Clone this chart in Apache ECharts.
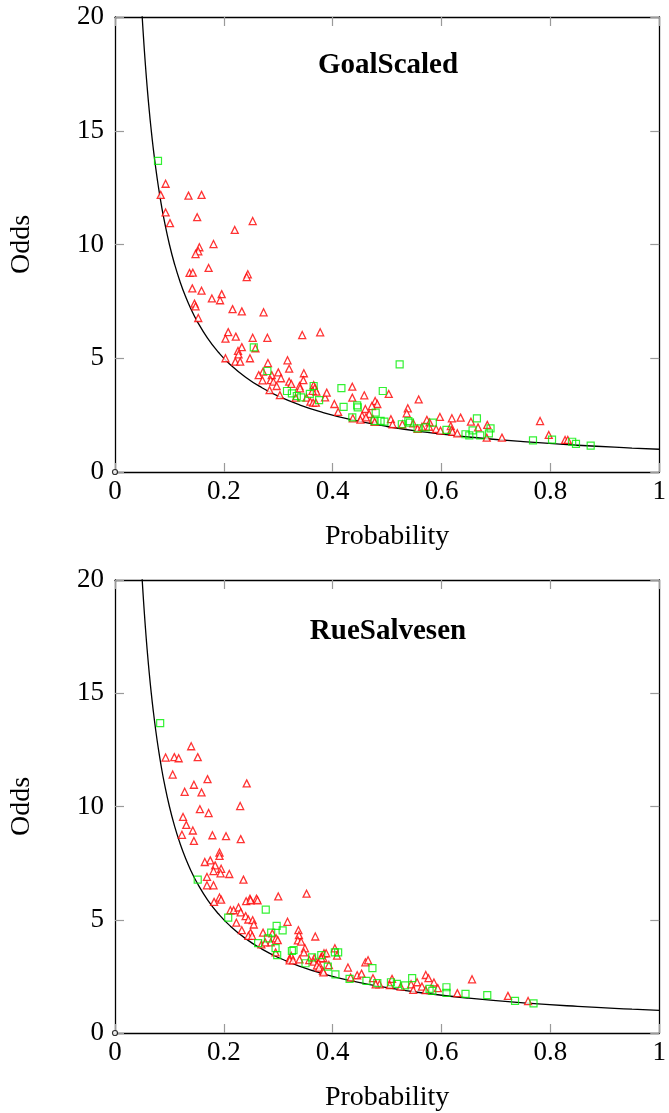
<!DOCTYPE html>
<html><head><meta charset="utf-8">
<script src="https://cdn.jsdelivr.net/npm/echarts@6/dist/echarts.min.js"></script>
<style>html,body{margin:0;padding:0;background:#fff}#c{width:669px;height:1113px}</style>
</head><body><div id="c"></div>
<script>
const titles = ['GoalScaled', 'RueSalvesen'];
const xTicks = [0, 0.2, 0.4, 0.6, 0.8, 1];
const yTicks = [0, 5, 10, 15, 20];
const curveP = [0.049,0.05,0.051,0.052,0.054,0.056,0.058,0.06,0.063,0.066,0.07,0.075,0.08,0.085,0.09,0.1,0.11,0.12,0.13,0.14,0.15,0.17,0.19,0.21,0.24,0.27,0.3,0.34,0.38,0.43,0.5,0.57,0.65,0.75,0.85,0.95,1];

const goalRed = [[0.093,12.67],[0.084,12.18],[0.135,12.15],[0.159,12.18],[0.093,11.41],[0.151,11.2],[0.253,11.03],[0.101,10.94],[0.220,10.64],[0.181,10.02],[0.155,9.88],[0.153,9.70],[0.148,9.58],[0.172,8.97],[0.244,8.69],[0.242,8.57],[0.137,8.75],[0.143,8.76],[0.142,8.07],[0.159,7.97],[0.196,7.82],[0.193,7.55],[0.178,7.63],[0.146,7.40],[0.148,7.28],[0.216,7.16],[0.233,7.06],[0.273,7.02],[0.153,6.77],[0.208,6.15],[0.222,5.95],[0.253,5.90],[0.280,5.90],[0.344,6.02],[0.203,5.86],[0.377,6.14],
[0.258,5.44],[0.233,5.49],[0.226,5.32],[0.227,5.17],[0.203,5.00],[0.221,4.85],[0.230,4.85],[0.248,5.00],[0.281,4.79],[0.317,4.91],[0.320,4.54],[0.272,4.41],[0.264,4.26],[0.300,4.38],[0.288,4.26],[0.347,4.34],[0.305,4.12],[0.286,4.04],[0.271,4.03],[0.291,3.97],[0.320,3.97],[0.346,4.04],[0.297,3.78],[0.324,3.87],[0.339,3.78],[0.340,3.68],[0.365,3.82],[0.367,3.68],[0.370,3.53],[0.363,3.57],[0.284,3.60],[0.303,3.38],[0.332,3.27],[0.352,3.27],[0.359,3.09],[0.364,3.05],[0.369,3.05],[0.386,3.28],[0.389,3.49],[0.436,3.75],[0.503,3.43],[0.458,3.37],[0.436,3.27],[0.403,2.99],[0.478,3.12],[0.482,2.99],[0.472,2.90],[0.460,2.77],[0.410,2.64],[0.467,2.55],[0.454,2.47],[0.437,2.36],[0.451,2.30],[0.461,2.40],[0.474,2.33],[0.477,2.20],[0.507,2.32],[0.510,2.10],[0.528,2.10],[0.538,2.80],[0.536,2.58],[0.548,2.14],[0.556,1.90],[0.558,3.19],[0.564,1.99],[0.573,2.29],[0.578,2.18],[0.577,1.99],[0.590,1.89],[0.597,2.42],
[0.619,2.36],[0.635,2.39],[0.617,2.02],[0.618,1.85],[0.620,1.77],[0.629,1.70],[0.598,1.82],[0.654,2.21],[0.667,1.96],[0.684,2.07],[0.683,1.51],[0.711,1.51],[0.781,2.24],[0.797,1.63],[0.827,1.41],[0.832,1.41]];

const goalGreen = [[0.079,13.68],[0.255,5.48],[0.280,4.44],[0.365,3.78],[0.316,3.56],[0.325,3.46],[0.334,3.34],[0.342,3.28],[0.358,3.43],[0.375,3.16],[0.416,3.69],[0.492,3.56],[0.523,4.73],[0.420,2.86],[0.445,2.93],[0.446,2.84],[0.479,2.61],[0.436,2.40],[0.477,2.24],[0.488,2.25],[0.495,2.21],[0.527,2.10],[0.539,2.24],[0.542,2.17],[0.556,1.92],[0.584,2.17],[0.571,1.96],[0.609,1.85],[0.644,1.66],[0.651,1.61],[0.657,1.83],[0.665,2.36],[0.671,1.61],[0.690,1.92],[0.687,1.70],[0.768,1.39],[0.803,1.42],[0.840,1.33],[0.847,1.24],[0.874,1.16]];

const rueRed = [[0.140,12.66],[0.093,12.16],[0.109,12.18],[0.117,12.13],[0.152,12.18],[0.106,11.41],[0.170,11.21],[0.242,11.02],[0.145,10.96],[0.128,10.65],[0.159,10.62],[0.230,10.02],[0.156,9.88],[0.172,9.71],[0.125,9.54],[0.131,9.19],[0.143,8.94],[0.123,8.75],[0.179,8.73],[0.204,8.69],[0.231,8.56],[0.145,8.48],[0.192,7.97],[0.192,7.82],[0.175,7.62],[0.165,7.55],[0.184,7.40],[0.195,7.25],[0.181,7.15],[0.194,7.05],[0.210,7.02],[0.169,6.89],[0.236,6.77],[0.181,6.52],[0.192,5.98],[0.248,5.93],[0.260,5.93],[0.300,6.03],[0.352,6.15],[0.169,6.52],[0.182,5.79],[0.195,5.89],[0.241,5.82],[0.249,5.86],[0.262,5.86],[0.212,5.42],[0.218,5.42],[0.227,5.54],[0.231,5.33],[0.240,5.16],[0.245,5.01],[0.253,4.98],[0.255,4.79],[0.223,4.87],[0.317,4.91],[0.233,4.54],[0.337,4.54],[0.289,4.40],[0.272,4.43],[0.338,4.32],[0.249,4.43],[0.245,4.29],[0.252,4.29],[0.368,4.26],[0.296,4.18],[0.299,4.10],[0.336,4.09],[0.342,4.03],[0.269,3.91],[0.286,4.00],[0.276,4.00],[0.349,3.74],[0.347,3.56],[0.295,3.56],[0.324,3.40],[0.321,3.30],[0.321,3.21],[0.327,3.21],[0.339,3.25],[0.357,3.22],[0.366,3.30],[0.365,3.15],[0.379,3.37],[0.384,3.52],[0.388,3.52],[0.383,3.30],[0.379,3.30],[0.374,3.08],[0.371,2.98],[0.375,2.89],[0.393,3.00],[0.382,2.74],[0.383,2.68],[0.404,3.74],[0.408,3.42],[0.428,2.89],[0.433,2.45],[0.445,2.55],[0.453,2.62],[0.460,3.12],[0.465,3.21],[0.474,2.42],[0.486,2.15],[0.479,2.15],[0.509,2.39],[0.505,2.12],[0.525,2.05],[0.555,2.24],[0.544,2.15],[0.548,1.90],[0.564,2.05],[0.571,2.56],[0.576,2.42],[0.586,2.23],[0.571,1.89],[0.593,1.98],[0.656,2.37],[0.629,1.76],[0.722,1.64],[0.759,1.41]];

const rueGreen = [[0.083,13.68],[0.152,6.77],[0.277,5.45],[0.208,5.09],[0.297,4.73],[0.308,4.53],[0.287,4.43],[0.281,4.18],[0.263,3.97],[0.295,3.75],[0.328,3.66],[0.325,3.62],[0.298,3.44],[0.362,3.34],[0.350,3.08],[0.379,3.44],[0.391,2.93],[0.404,3.56],[0.410,3.56],[0.405,2.59],[0.431,2.39],[0.473,2.86],[0.462,2.30],[0.482,2.20],[0.507,2.24],[0.518,2.17],[0.533,2.10],[0.546,2.42],[0.578,1.95],[0.583,1.86],[0.609,2.02],[0.609,1.77],[0.644,1.73],[0.684,1.67],[0.735,1.42],[0.769,1.31]];

const redSets = [goalRed, rueRed];
const greenSets = [goalGreen, rueGreen];
const gridTops = [17, 580];
const titleY = [66, 632];

const curve = curveP.map(p => [p, 1 / p]);

const FONT = '"Liberation Serif", "DejaVu Serif", serif';
const grid = [], xAxis = [], yAxis = [], series = [], graphic = [];
titles.forEach((title, i) => {
  grid.push({left: 115, top: gridTops[i], width: 546, height: 455, show: false});
  const tickStyle = {show: true, inside: true, length: 9, lineStyle: {color: '#9a9a9a', width: 1.2}};
  const lineStyle = {show: true, onZero: false, lineStyle: {color: '#000', width: 1.3}};
  xAxis.push({
    type: 'value', gridIndex: i, position: 'bottom', min: xTicks[0], max: xTicks[xTicks.length - 1], interval: 0.2,
    axisLine: lineStyle, axisTick: tickStyle, splitLine: {show: false},
    axisLabel: {color: '#000', fontFamily: FONT, fontSize: 27, margin: 6,
      formatter: v => (v === 0 || v === 1) ? String(v) : v.toFixed(1)},
    name: 'Probability', nameLocation: 'middle', nameGap: 51,
    nameTextStyle: {color: '#000', fontFamily: FONT, fontSize: 28}
  });
  xAxis.push({
    type: 'value', gridIndex: i, position: 'top', min: 0, max: 1, interval: 0.2,
    axisLine: lineStyle, axisTick: tickStyle, axisLabel: {show: false}, splitLine: {show: false}
  });
  yAxis.push({
    type: 'value', gridIndex: i, position: 'left', min: yTicks[0], max: yTicks[yTicks.length - 1], interval: 5,
    axisLine: lineStyle, axisTick: tickStyle, splitLine: {show: false},
    axisLabel: {color: '#000', fontFamily: FONT, fontSize: 27, margin: 11},
    name: 'Odds', nameLocation: 'middle', nameGap: 79, nameRotate: 90,
    nameTextStyle: {color: '#000', fontFamily: FONT, fontSize: 28}
  });
  yAxis.push({
    type: 'value', gridIndex: i, position: 'right', min: 0, max: 20, interval: 5,
    axisLine: lineStyle, axisTick: tickStyle, axisLabel: {show: false}, splitLine: {show: false}
  });
  const xi = i * 2, yi = i * 2;
  series.push({
    type: 'line', xAxisIndex: xi, yAxisIndex: yi, data: curve, smooth: true, showSymbol: false,
    lineStyle: {color: '#000', width: 1.3}, clip: true, silent: true, z: 2
  });
  series.push({
    type: 'scatter', xAxisIndex: xi, yAxisIndex: yi, data: redSets[i], symbol: 'triangle', symbolSize: 7,
    itemStyle: {color: '#fff', borderColor: '#ff0000', borderWidth: 1.3}, z: 3
  });
  series.push({
    type: 'scatter', xAxisIndex: xi, yAxisIndex: yi, data: greenSets[i], symbol: 'rect', symbolSize: 7,
    itemStyle: {color: 'rgba(255,255,255,0)', borderColor: '#00ee00', borderWidth: 1.2}, z: 4
  });
  series.push({
    type: 'scatter', xAxisIndex: xi, yAxisIndex: yi, data: [[0, 0]], symbol: 'circle', symbolSize: 5,
    itemStyle: {color: '#fff', borderColor: '#000', borderWidth: 1.2}, z: 5, clip: false
  });
  graphic.push({
    type: 'text', x: 388, y: titleY[i],
    style: {text: title, fill: '#000', font: 'bold 29px ' + FONT, textAlign: 'center', textVerticalAlign: 'middle'}
  });
});

const chart = echarts.init(document.getElementById('c'), null, {renderer: 'canvas'});
chart.setOption({animation: false, backgroundColor: '#fff', grid, xAxis, yAxis, series, graphic});
</script></body></html>
